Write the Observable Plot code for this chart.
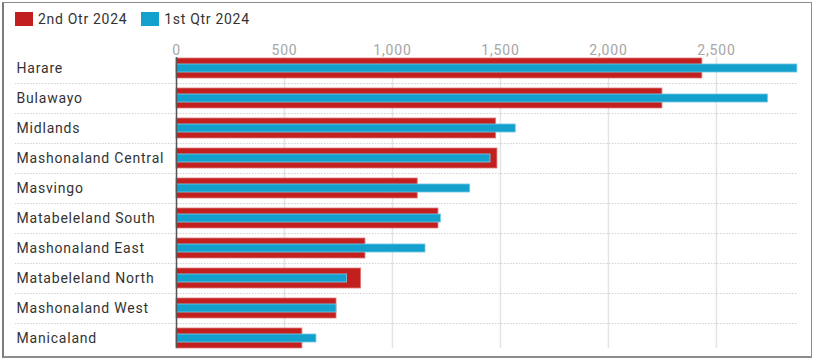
<!DOCTYPE html>
<html>
<head>
<meta charset="utf-8">
<script src="https://cdn.jsdelivr.net/npm/d3@7"></script>
<script src="https://cdn.jsdelivr.net/npm/@observablehq/plot@0.6"></script>
<style>
  html, body { margin: 0; padding: 0; background: #fff; }
  body { width: 816px; height: 362px; position: relative; overflow: hidden; font-family: Roboto, "Noto Sans", sans-serif; }
  #frame { position: absolute; left: 2px; top: 2px; width: 807px; height: 353px; border: 1px solid #8c8c8c; border-bottom: 2px solid #8c8c8c; border-left: 2px solid #7c7c7c; }
  #legend { position: absolute; left: 15px; top: 11px; display: flex; align-items: center; font-size: 14px; color: #333; letter-spacing: 0.7px; }
  .item { display: flex; align-items: center; margin-right: 14px; }
  .sw { width: 18px; height: 14px; margin-right: 5px; }
  #chart { position: absolute; left: 0; top: 30px; }
</style>
</head>
<body>
<div id="frame"></div>
<div id="legend"></div>
<div id="chart"></div>
<script>
const regions = ["Harare","Bulawayo","Midlands","Mashonaland Central","Masvingo","Matabeleland South","Mashonaland East","Matabeleland North","Mashonaland West","Manicaland"];
const q2 = [2435,2250,1480,1486,1117,1213,875,855,741,583];
const q1 = [2875,2739,1571,1454,1360,1225,1153,790,741,648];
const xTicks = [0,500,1000,1500,2000,2500];
const seriesNames = ["2nd Otr 2024","1st Qtr 2024"];
const seriesColors = ["#c21f1f","#14a0cd"];

const legend = document.getElementById("legend");
seriesNames.forEach((name, i) => {
  const it = document.createElement("div");
  it.className = "item";
  const sw = document.createElement("div");
  sw.className = "sw";
  sw.style.background = seriesColors[i];
  const t = document.createElement("span");
  t.textContent = name;
  it.appendChild(sw); it.appendChild(t);
  legend.appendChild(it);
});

const data = regions.map((r, i) => ({region: r, q2: q2[i], q1: q1[i]}));

const W = 816, H = 330, mt = 27, mb = 12, ml = 176, mr = 18;
const pin = 0.338, pout = 0;
const step = (H - mt - mb) / (regions.length - pin + 2 * pout);
const bw = step * (1 - pin);
const blueH = 8;

const fmt = d3.format(",");

const chart = Plot.plot({
  width: W, height: H,
  marginTop: mt, marginBottom: mb, marginLeft: ml, marginRight: mr,
  style: {fontFamily: "Roboto, 'Noto Sans', sans-serif", background: "transparent", letterSpacing: "0.8px"},
  x: {domain: [0, 2880], axis: null},
  y: {domain: regions, paddingInner: pin, paddingOuter: pout, axis: null},
  marks: [
    Plot.ruleX(xTicks.slice(1), {x: d => d, stroke: "#e4e4e4", strokeWidth: 1.5}),
    Plot.ruleY(regions.slice(0, -1), {y: d => d, dy: step / 2, insetLeft: -(ml - 15), stroke: "#cfcfcf", strokeDasharray: "1.5,1.5", strokeWidth: 1}),
    Plot.barX(data, {y: "region", x: "q2", fill: seriesColors[0], stroke: "#e07b7b", strokeWidth: 0.8}),
    Plot.barX(data, {y: "region", x: "q1", fill: seriesColors[1], stroke: "#7fcbe6", strokeWidth: 0.8, insetTop: (bw - blueH) / 2, insetBottom: (bw - blueH) / 2}),
    Plot.ruleX([0], {stroke: "#555", strokeWidth: 1.5}),
    Plot.text(xTicks, {x: d => d, text: d => fmt(d), frameAnchor: "top", dy: -12, fill: "#a6a6a6", fontSize: 14}),
    Plot.text(data, {y: "region", text: "region", frameAnchor: "left", textAnchor: "start", dx: -(ml - 16), fill: "#333", fontSize: 14})
  ]
});
document.getElementById("chart").appendChild(chart);
</script>
</body>
</html>
